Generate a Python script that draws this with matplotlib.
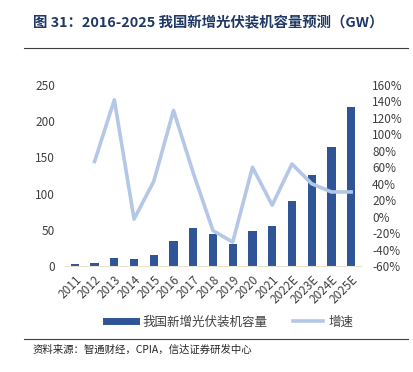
import numpy as np
import matplotlib.pyplot as plt
from matplotlib.lines import Line2D

plt.rcParams['font.family'] = ['Noto Sans CJK SC', 'DejaVu Sans']

years = ['2011', '2012', '2013', '2014', '2015', '2016', '2017', '2018',
         '2019', '2020', '2021', '2022E', '2023E', '2024E', '2025E']
capacity = [2.3, 4.6, 10.6, 10.2, 14.7, 34.5, 52.5, 43.8,
            30.1, 48.2, 54.9, 89.3, 125.7, 163.9, 220.0]
growth = [np.nan, 67, 142, -3, 43, 129, 53, -17,
          -31, 60, 14, 64, 40, 30, 30]

bar_color = '#2F5597'
line_color = '#B4C7E7'
text_color = '#404040'

fig = plt.figure(figsize=(4.13, 3.72), dpi=100)
ax1 = fig.add_axes([65/413, 1-266/372, 296/413, 181/372])
x = np.arange(len(years))
ax1.bar(x, capacity, width=0.42, color=bar_color, zorder=2)
ax1.set_ylim(0, 250)
ax1.set_xlim(-0.5, len(years) - 0.5)
ax1.set_yticks(np.arange(0, 251, 50))
ax1.set_xticks(x)
ax1.set_xticklabels(years, rotation=45, ha='right', rotation_mode='anchor')
ax1.tick_params(axis='both', length=0, labelsize=8.5, colors=text_color)
ax1.tick_params(axis='x', pad=5)
ax1.tick_params(axis='y', pad=7)
for s in ['top', 'right', 'left']:
    ax1.spines[s].set_visible(False)
ax1.spines['bottom'].set_color('#E8E2D0')

ax2 = ax1.twinx()
ax2.plot(x, growth, color=line_color, lw=2.6, zorder=3)
ax2.set_ylim(-60, 160)
ax2.set_yticks(np.arange(-60, 161, 20))
ax2.set_yticklabels([f'{v}%' for v in range(-60, 161, 20)])
ax2.tick_params(axis='y', length=0, labelsize=8.5, colors=text_color, pad=8)
for s in ax2.spines.values():
    s.set_visible(False)

handles = [Line2D([0], [0], color=bar_color, lw=5),
           Line2D([0], [0], color=line_color, lw=2.6)]
fig.legend(handles, ['我国新增光伏装机容量', '增速'], loc='center',
           bbox_to_anchor=(230/413, 1-322/372), ncol=2, frameon=False,
           fontsize=9, handlelength=2.4, handletextpad=0.5,
           columnspacing=2.0, labelcolor=text_color)

fig.text(33/413, 1-23/372, '图 31：2016-2025 我国新增光伏装机容量预测（GW）',
         fontsize=10.4, fontweight='bold', color='#1F3864', va='center')
fig.add_artist(Line2D([24/413, 408/413], [1-48/372, 1-48/372],
                      color='#404040', lw=0.8))
fig.add_artist(Line2D([24/413, 408/413], [1-339/372, 1-339/372],
                      color='#404040', lw=0.8))
fig.text(33/413, 1-350/372, '资料来源：智通财经，CPIA，信达证券研发中心',
         fontsize=7.5, color='#262626', va='center', style='italic')

fig.savefig('out.png', dpi=100)
